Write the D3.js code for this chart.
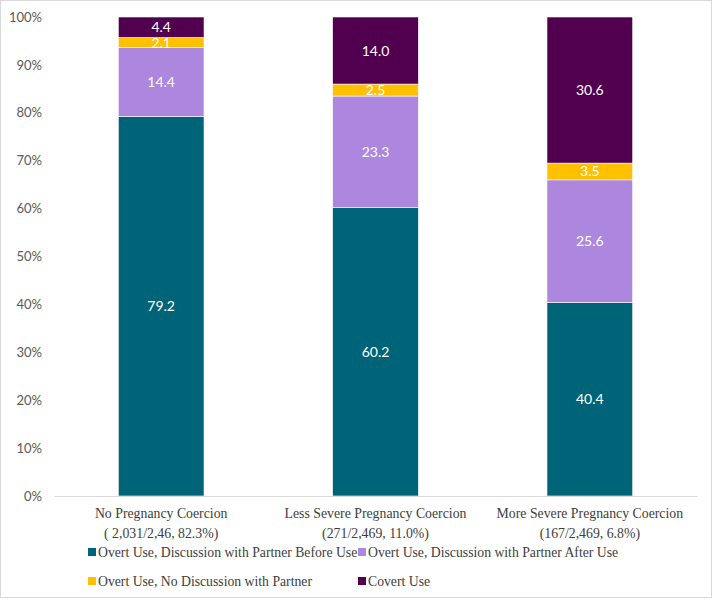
<!DOCTYPE html>
<html><head><meta charset="utf-8">
<script src="https://cdn.jsdelivr.net/npm/d3@7"></script>
<style>body{margin:0;background:#fff}svg{display:block}</style>
</head><body><svg id="c" width="714" height="601"></svg>
<script>
const categories = [["No Pregnancy Coercion","( 2,031/2,46, 82.3%)"],["Less Severe Pregnancy Coercion","(271/2,469, 11.0%)"],["More Severe Pregnancy Coercion","(167/2,469, 6.8%)"]];
const seriesNames = ["Overt Use, Discussion with Partner Before Use","Overt Use, Discussion with Partner After Use","Overt Use, No Discussion with Partner","Covert Use"];
const beforeUse = [79.2, 60.2, 40.4];
const afterUse = [14.4, 23.3, 25.6];
const noDiscussion = [2.1, 2.5, 3.5];
const covert = [4.4, 14.0, 30.6];
const colors = ["#006479","#AD87DE","#FFC000","#50004F"];
const yTicks = [0,10,20,30,40,50,60,70,80,90,100];

const series = [beforeUse, afterUse, noDiscussion, covert];
const svg = d3.select("#c");
svg.append("rect").attr("x",0.5).attr("y",0.5).attr("width",711).attr("height",597).attr("fill","#fff").attr("stroke","#d9d9d9");

const x = d3.scaleBand().domain(d3.range(3)).range([54,697]).paddingInner(0.6).paddingOuter(0.3);
const y = d3.scaleLinear().domain([0,100]).range([496,17]);

// y axis labels
const ya = svg.append("g").attr("transform","translate(42,0)").call(d3.axisLeft(y).tickValues(yTicks).tickFormat(d=>d+"%").tickSize(0).tickPadding(0));
ya.select(".domain").remove();
ya.selectAll("text").attr("font-family","Lato, 'Liberation Sans', sans-serif").attr("font-size",13).attr("fill","#595959");

// stacked bars
categories.forEach((c,i)=>{
  let cum = 0;
  series.forEach((s,k)=>{
    const v = s[i];
    const y0 = cum, y1 = Math.min(100, cum+v);
    cum += v;
    svg.append("rect").attr("x",x(i)).attr("width",x.bandwidth())
      .attr("y",y(y1)).attr("height",y(y0)-y(y1)).attr("fill",colors[k])
      .attr("stroke","#fff").attr("stroke-width",0.6);
    svg.append("text").attr("x",x(i)+x.bandwidth()/2).attr("y",(y(y0)+y(y1))/2+5)
      .attr("text-anchor","middle").attr("fill","#fff")
      .attr("font-family","Lato, 'Liberation Sans', sans-serif").attr("font-size",14)
      .text(v.toFixed(1));
  });
});

// x axis
const xa = svg.append("g").attr("transform","translate(0,496)").call(d3.axisBottom(x).tickSize(0).tickFormat(""));
xa.select(".domain").attr("stroke","#d9d9d9").attr("stroke-width",1);
categories.forEach((c,i)=>{
  const cx = x(i)+x.bandwidth()/2;
  const t = svg.append("text").attr("text-anchor","middle").attr("font-family","'Liberation Serif','Times New Roman',serif").attr("font-size",15).attr("fill","#404040")
    .attr("transform",`translate(${cx},0) scale(0.92,1)`);
  c.forEach((line,j)=>t.append("tspan").attr("x",0).attr("y",518+j*20).text(line));
});

// legend
const legPos = [[88,552],[358,552],[88,581],[358,581]];
seriesNames.forEach((n,k)=>{
  const [lx,ly] = legPos[k];
  svg.append("rect").attr("x",lx).attr("y",ly-4).attr("width",8).attr("height",8).attr("fill",colors[k]);
  svg.append("text").attr("font-family","'Liberation Serif','Times New Roman',serif").attr("font-size",15).attr("fill","#404040")
    .attr("transform",`translate(${lx+10},${ly+5}) scale(0.915,1)`).text(n);
});
</script></body></html>
